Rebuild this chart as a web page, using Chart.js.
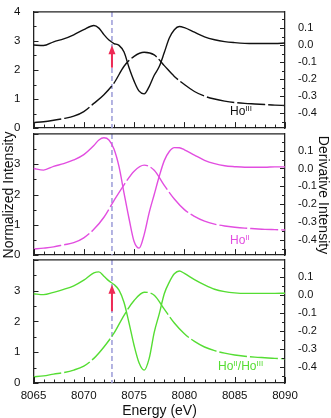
<!DOCTYPE html>
<html>
<head>
<meta charset="utf-8">
<script src="https://cdn.jsdelivr.net/npm/chart.js@4"></script>
<style>
  body { margin: 0; background: #fff; }
  #fig { position: relative; width: 331px; height: 418px; overflow: hidden; font-family: "Liberation Sans", Arial, sans-serif; }
  .panel { position: absolute; left: 0; width: 331px; }
  .title { position: absolute; width: 200px; height: 18px; line-height: 18px; text-align: center; font-size: 14px; color: #111; }
  .tag { position: absolute; font-size: 12px; line-height: 12px; white-space: nowrap; }
  .tag sup { font-size: 8px; vertical-align: 4px; line-height: 0; }
</style>
</head>
<body>
<div id="fig">
  <div class="panel" style="top:0px;height:140px"><canvas id="c1"></canvas></div>
  <div class="panel" style="top:122px;height:145px"><canvas id="c2"></canvas></div>
  <div class="panel" style="top:248px;height:170px"><canvas id="c3"></canvas></div>

  <div class="title" style="left:-92.5px;top:185.5px;transform:rotate(-90deg)">Normalized Intensity</div>
  <div class="title" style="left:224px;top:185.5px;transform:rotate(90deg)">Derivative Intensity</div>
  <div class="title" style="left:59.5px;top:401px">Energy (eV)</div>

  <div class="tag" style="left:230px;top:104.5px;color:#111">Ho<sup>III</sup></div>
  <div class="tag" style="left:230px;top:234px;color:#e24ee0">Ho<sup>II</sup></div>
  <div class="tag" style="left:218px;top:360px;color:#55dd33">Ho<sup>II</sup>/Ho<sup>III</sup></div>
</div>
<script>
// energy grids (eV)
const energyNorm = [8065, 8066, 8067, 8068, 8069, 8070, 8071, 8072, 8073, 8074, 8075, 8076, 8077,
  8078, 8079, 8080, 8081, 8082, 8083, 8084, 8085, 8086, 8087, 8088, 8089, 8090];
const energyDeriv = [8065, 8066, 8067, 8068, 8069, 8070, 8071, 8071.5, 8072, 8072.5, 8073, 8073.5,
  8074, 8074.5, 8075, 8075.5, 8076, 8076.5, 8077, 8077.5, 8078, 8078.5, 8079, 8079.5, 8080,
  8081, 8082, 8083, 8084, 8085, 8086, 8087, 8088, 8089, 8090];

// normalized intensity (dashed, left axis)
const hoIIINorm = [0.19, 0.22, 0.27, 0.33, 0.41, 0.57, 0.85, 1.15, 1.55, 2.13, 2.47, 2.61, 2.52,
  2.15, 1.78, 1.50, 1.26, 1.10, 1.00, 0.93, 0.88, 0.85, 0.83, 0.81, 0.79, 0.78];
const hoIINorm = [0.20, 0.23, 0.27, 0.34, 0.41, 0.57, 0.85, 1.25, 1.80, 2.32, 2.77, 2.97, 2.80,
  2.30, 1.85, 1.50, 1.28, 1.12, 1.02, 0.96, 0.92, 0.89, 0.87, 0.85, 0.84, 0.83];
const mixNorm = [0.20, 0.23, 0.29, 0.34, 0.42, 0.55, 0.80, 1.17, 1.62, 2.20, 2.68, 2.95, 2.85,
  2.40, 1.95, 1.60, 1.35, 1.17, 1.05, 0.97, 0.91, 0.87, 0.84, 0.82, 0.80, 0.79];

// derivative intensity (solid, right axis)
const hoIIIDeriv = [0.000, -0.003, 0.019, 0.036, 0.060, 0.090, 0.114, 0.099, 0.061, 0.029, 0.009,
  -0.002, -0.041, -0.133, -0.211, -0.270, -0.286, -0.243, -0.177, -0.126, -0.044, 0.041, 0.090,
  0.109, 0.102, 0.075, 0.048, 0.031, 0.020, 0.014, 0.010, 0.009, 0.009, 0.009, 0.012];
const hoIIDeriv = [0.000, -0.009, 0.012, 0.027, 0.048, 0.078, 0.129, 0.160, 0.172, 0.160, 0.109,
  0.010, -0.138, -0.282, -0.410, -0.447, -0.371, -0.248, -0.146, -0.044, 0.044, 0.095, 0.117,
  0.116, 0.105, 0.075, 0.046, 0.027, 0.015, 0.010, 0.007, 0.007, 0.007, 0.009, 0.009];
const mixDeriv = [0.007, 0.002, 0.015, 0.031, 0.051, 0.082, 0.122, 0.128, 0.104, 0.078, 0.058,
  0.027, -0.041, -0.155, -0.279, -0.376, -0.415, -0.350, -0.206, -0.104, 0.007, 0.071, 0.117,
  0.133, 0.119, 0.085, 0.056, 0.032, 0.019, 0.012, 0.009, 0.009, 0.009, 0.009, 0.010];

// tick labels
const energyTicks = [8065, 8070, 8075, 8080, 8085, 8090];
const normTicks = [0, 1, 2, 3, 4];
const derivTicks = [0.1, 0.0, -0.1, -0.2, -0.3, -0.4];

const markerEnergy = 8072.8;

const axisColor = '#222';
const tickFont = { family: '"Liberation Sans", Arial, sans-serif', size: 11 };

function line(ctx, x1, y1, x2, y2) {
  ctx.beginPath();
  ctx.moveTo(x1, y1);
  ctx.lineTo(x2, y2);
  ctx.stroke();
}

// frame top, inner tick marks, marker line and arrow
const framePlugin = {
  id: 'frame',
  beforeDatasetsDraw(chart) {
    const { ctx, chartArea: a, scales } = chart;
    const mx = scales.x.getPixelForValue(markerEnergy);
    ctx.save();
    ctx.strokeStyle = '#9b9bd8';
    ctx.lineWidth = 1.5;
    ctx.setLineDash([5, 3]);
    line(ctx, mx, a.top, mx, a.bottom);
    ctx.restore();
  },
  afterDraw(chart, args, opts) {
    const { ctx, chartArea: a, scales } = chart;
    ctx.save();
    ctx.strokeStyle = axisColor;
    ctx.lineWidth = 1.3;
    line(ctx, a.left, a.top, a.right, a.top);
    ctx.lineWidth = 1;
    for (let e = 8065; e <= 8090; e++) {
      const px = Math.round(scales.x.getPixelForValue(e)) + 0.5;
      line(ctx, px, a.bottom, px, a.bottom - (e % 5 === 0 ? 6 : 3.5));
    }
    for (let k = 0; k <= 8; k++) {
      const py = Math.round(scales.yL.getPixelForValue(k / 2)) + 0.5;
      line(ctx, a.left, py, a.left + (k % 2 === 0 ? 5 : 3), py);
    }
    for (let k = -9; k <= 3; k++) {
      const py = Math.round(scales.yR.getPixelForValue(k * 0.05)) + 0.5;
      line(ctx, a.right, py, a.right - (k % 2 === 0 ? 5 : 3), py);
    }
    if (opts.arrow) {
      const ax = scales.x.getPixelForValue(markerEnergy);
      const y1 = scales.yL.getPixelForValue(opts.arrow[0]);
      const y2 = scales.yL.getPixelForValue(opts.arrow[1]);
      ctx.strokeStyle = '#ee2a55';
      ctx.fillStyle = '#ee2a55';
      ctx.lineWidth = 2;
      line(ctx, ax, y1, ax, y2 + 6);
      ctx.beginPath();
      ctx.moveTo(ax, y2);
      ctx.lineTo(ax - 3.5, y2 + 9);
      ctx.lineTo(ax + 3.5, y2 + 9);
      ctx.closePath();
      ctx.fill();
    }
    ctx.restore();
  }
};

function makePanel(id, norm, deriv, color, cfg) {
  new Chart(document.getElementById(id), {
    type: 'line',
    data: {
      datasets: [
        {
          data: energyNorm.map((e, i) => ({ x: e, y: norm[i] })),
          yAxisID: 'yL',
          borderColor: color,
          borderWidth: 1.4,
          borderDash: [28, 3],
          pointRadius: 0,
          cubicInterpolationMode: 'monotone',
          fill: false
        },
        {
          data: energyDeriv.map((e, i) => ({ x: e, y: deriv[i] })),
          yAxisID: 'yR',
          borderColor: color,
          borderWidth: 1.4,
          pointRadius: 0,
          cubicInterpolationMode: 'monotone',
          fill: false
        }
      ]
    },
    options: {
      responsive: true,
      maintainAspectRatio: false,
      animation: false,
      layout: { padding: { top: cfg.padTop, left: 0, right: 0, bottom: 0 } },
      plugins: {
        legend: { display: false },
        tooltip: { enabled: false },
        frame: { arrow: cfg.arrow }
      },
      scales: {
        x: {
          type: 'linear',
          min: 8065,
          max: 8090,
          grid: { display: false },
          border: { color: axisColor, width: 1.3 },
          ticks: {
            display: cfg.showX, color: '#111', font: { ...tickFont, size: 11.5 }, padding: -2,
            maxRotation: 0, autoSkip: false, callback: v => String(v)
          },
          afterBuildTicks: s => { s.ticks = energyTicks.map(v => ({ value: v })); },
          afterFit: s => { s.height = cfg.xHeight; }
        },
        yL: {
          position: 'left',
          min: 0,
          max: 4,
          grid: { display: false },
          border: { color: axisColor, width: 1.3 },
          ticks: {
            color: '#111', font: { ...tickFont, size: 11.5 }, padding: 5,
            callback: v => (cfg.hideTop && v === 4) ? '' : String(v)
          },
          afterBuildTicks: s => { s.ticks = normTicks.map(v => ({ value: v })); },
          afterFit: s => { s.width = 33.5; }
        },
        yR: {
          position: 'right',
          min: -0.486,
          max: 0.194,
          grid: { display: false },
          border: { color: axisColor, width: 1.3 },
          ticks: { color: '#111', font: tickFont, padding: 5, callback: v => v.toFixed(1) },
          afterBuildTicks: s => { s.ticks = derivTicks.map(v => ({ value: v })); },
          afterFit: s => { s.width = 46; }
        }
      }
    },
    plugins: [framePlugin]
  });
}

makePanel('c1', hoIIINorm, hoIIIDeriv, '#111111', { padTop: 5.5, xHeight: 9, showX: false, hideTop: false, arrow: [2.08, 2.85] });
makePanel('c2', hoIINorm, hoIIDeriv, '#e24ee0', { padTop: 9, xHeight: 10, showX: false, hideTop: true, arrow: null });
makePanel('c3', mixNorm, mixDeriv, '#55dd33', { padTop: 9, xHeight: 35, showX: true, hideTop: true, arrow: [2.33, 3.19] });
</script>
</body>
</html>
